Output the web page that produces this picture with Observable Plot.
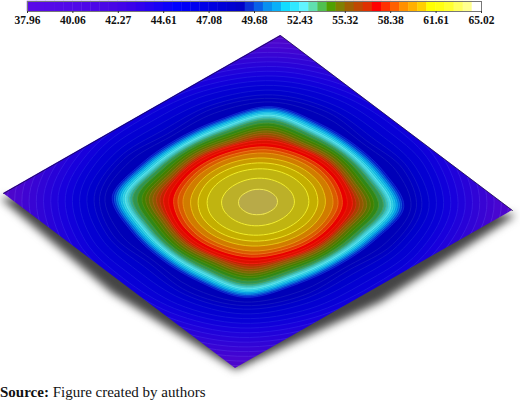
<!doctype html>
<html>
<head>
<meta charset="utf-8">
<script src="https://cdn.jsdelivr.net/npm/d3@7"></script>
<script src="https://cdn.jsdelivr.net/npm/@observablehq/plot@0.6"></script>
<style>
  html, body { margin: 0; padding: 0; background: #fff; overflow: hidden; }
  svg { display: block; }
  #source { font: 15px/24px "Liberation Serif", serif; color: #111; margin: 0; }
</style>
</head>
<body>
<div id="bar"></div>
<div id="map"></div>
<p id="source"><b>Source:</b> Figure created by authors</p>
<script>
const tickLabels = ["37.96","40.06","42.27","44.61","47.08","49.68","52.43","55.32","58.38","61.61","65.02"];
const barColors = ["#5a0ae8","#580ae8","#560ae8","#540ae8","#520ae8","#500ae8","#4e08e8","#4c08e8","#4a08e6","#4806e6","#4204e8","#3a02ea","#3000ee","#2400f2","#1800f6","#0c00fa","#0000ff","#0000f8","#0000f0","#0000e8","#0000e0","#0000d8","#0000d0","#0000c8","#0a30d8","#0a60e8","#0a90f0","#0ab0f8","#10dcff","#30e8ff","#60f4ff","#60e0b0","#50c050","#50a000","#808000","#a06000","#c04800","#e03000","#ff0000","#ff3000","#ff6000","#ff9000","#ffb000","#ffd000","#ffff00","#ffff10","#ffff30","#ffff60","#ffff90","#ffffff"];

// contour rings, outermost first: radius toward a plate corner, half way, and toward a plate side
const ringTip  = [.715,.695,.675,.655,.635,.615,.595,.575,.555,.535,.515,.495,.475,.455,.44,.425,.405,.399,.393,.387,.381,.375,.369,.363,.356,.348,.335,.322,.312,.302,.292,.282,.272,.262,.248,.234,.222,.208,.187,.166,.141,.101,.054];
const ringMid  = [.70,.68,.66,.64,.62,.60,.58,.56,.54,.52,.50,.48,.455,.435,.42,.40,.368,.362,.357,.351,.346,.34,.334,.328,.322,.315,.305,.294,.285,.276,.269,.261,.255,.25,.24,.228,.216,.204,.185,.165,.140,.100,.054];
const ringSide = [.69,.67,.65,.63,.61,.59,.57,.55,.525,.505,.485,.46,.435,.41,.39,.375,.355,.349,.343,.338,.333,.328,.323,.318,.312,.306,.298,.29,.282,.274,.266,.26,.254,.248,.238,.226,.215,.202,.184,.164,.139,.099,.053];
const ringFill = ["#5206c8","#4c06cc","#4806d0","#4004d2","#3804d4","#3004d6","#2802d8","#2002da","#1800dc","#1000da","#0800d6","#0400d2","#0000cc","#0000c4","#0000bc","#0000b8","#0018c8","#0040d0","#0070d8","#0098e0","#10b4e0","#28c8e0","#40d4e4","#38c0c4","#30a890","#309450","#308818","#408000","#587400","#786600","#905600","#a84000","#c02400","#dc1000","#e80000","#e03800","#d85c00","#d07c00","#c89a00","#c4ae00","#c0b410","#bcb028","#b8aa48"];
const ringLine = ["#6420d0","#5e1ed4","#5a1ed8","#521cda","#4a1cdc","#421ade","#3a18e0","#3218e2","#2a16e2","#2216e0","#1a16dc","#1616d8","#1216d2","#1216ca","#1216c2","#1216be","#1028d0","#1050d8","#1080e0","#10a8e8","#28c4e8","#40d8e8","#60e4ea","#50d0cc","#48b898","#48a058","#48942c","#508c10","#688010","#887210","#a06210","#b84c10","#d03010","#f02010","#f01808","#f05010","#ec7418","#e89410","#e8c010","#eee020","#f0ec28","#f2ee30","#f0e850"];

const corner = { top: [280, 35], left: [3, 193], right: [512, 210], bottom: [235, 368] };
const place = (u, v) => [
  corner.top[0] + u * (corner.right[0] - corner.top[0]) + v * (corner.left[0] - corner.top[0]),
  corner.top[1] + u * (corner.right[1] - corner.top[1]) + v * (corner.left[1] - corner.top[1])
];

const rings = ringTip.flatMap((tip, ring) =>
  d3.range(16).map(k => {
    const r = [ringSide[ring], ringMid[ring], tip, ringMid[ring]][k % 4];
    const a = k * Math.PI / 8;
    const [px, py] = place(0.5 + r * Math.cos(a), 0.5 + r * Math.sin(a));
    return { ring, px, py, paint: ringFill[ring], ink: ringLine[ring] };
  })
);

const barPlot = Plot.plot({
  width: 520, height: 28, marginTop: 1, marginBottom: 17, marginLeft: 27, marginRight: 39,
  x: { domain: [0, 50] },
  y: { axis: null, domain: [0, 1] },
  style: { fontFamily: "Liberation Serif", fontWeight: "bold", fontSize: "11.5px", color: "#111", background: "transparent", overflow: "visible" },
  marks: [
    Plot.rect(barColors, { x1: (d, i) => i, x2: (d, i) => i + 1, y1: 0, y2: 1, fill: d => d, inset: -0.2 }),
    Plot.frame({ stroke: "#777", strokeWidth: 1 }),
    Plot.axisX(d3.range(0, 51, 5), { tickFormat: i => tickLabels[i / 5], tickSize: 2, tickPadding: 2, fontSize: 11.5, stroke: "#333" })
  ]
});
document.getElementById("bar").append(barPlot);

const shadowPath = [
  { px: corner.left[0] - 1, py: corner.left[1] + 5 },
  { px: place(.5, 1)[0] - 7, py: place(.5, 1)[1] + 11 },
  { px: corner.bottom[0], py: corner.bottom[1] },
  { px: place(1, .5)[0] + 7, py: place(1, .5)[1] + 11 },
  { px: corner.right[0] + 1, py: corner.right[1] + 5 },
  { px: place(.5, .5)[0], py: place(.5, .5)[1] }
];
const topEdge = [corner.left, corner.top, corner.right].map(([px, py]) => ({ px, py }));

const mapPlot = Plot.plot({
  width: 520, height: 352, margin: 0,
  x: { axis: null, domain: [0, 520], range: [0, 520] },
  y: { axis: null, domain: [28, 380], range: [0, 352] },
  marks: [
    Plot.line(shadowPath, { x: "px", y: "py", fill: "#444", stroke: "#444", strokeWidth: 2, curve: "linear-closed", imageFilter: "blur(4px)" }),
    Plot.line(rings, { x: "px", y: "py", z: "ring", fill: "paint", stroke: "ink", strokeWidth: 1, curve: "catmull-rom-closed", imageFilter: "blur(0.4px)" }),
    Plot.line(topEdge, { x: "px", y: "py", stroke: "#1c0a50", strokeWidth: 1, strokeOpacity: 0.8 })
  ]
});
document.getElementById("map").append(mapPlot);

// keep the rings inside the plate
const sx = mapPlot.scale("x"), sy = mapPlot.scale("y");
const NS = "http://www.w3.org/2000/svg";
const defs = document.createElementNS(NS, "clipPath");
defs.setAttribute("id", "plate");
const poly = document.createElementNS(NS, "polygon");
poly.setAttribute("points", [corner.top, corner.right, corner.bottom, corner.left].map(([x, y]) => sx.apply(x) + "," + sy.apply(y)).join(" "));
defs.append(poly);
mapPlot.append(defs);
const groups = mapPlot.querySelectorAll(':scope > g[aria-label="line"]');
if (groups[1]) {
  const ringGroup = groups[1];
  const wrap = document.createElementNS(NS, "g");
  wrap.setAttribute("clip-path", "url(#plate)");
  ringGroup.replaceWith(wrap);
  wrap.append(ringGroup);
}
</script>
</body>
</html>
